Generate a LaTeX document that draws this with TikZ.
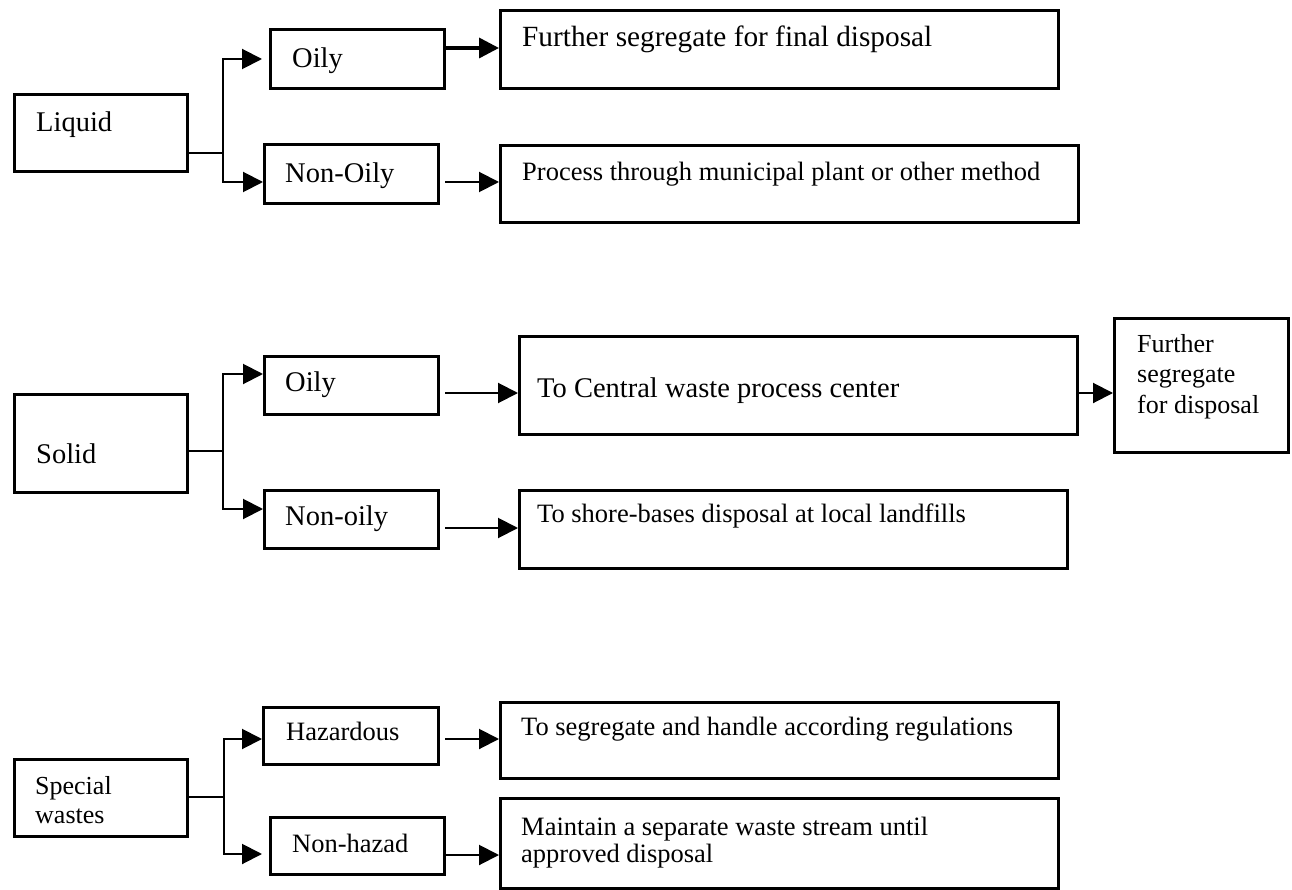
\documentclass[tikz,border=0pt]{standalone}
\usepackage{fontspec}
\setmainfont{Liberation Serif}
\usepackage{tikz}
\usetikzlibrary{arrows.meta}

\begin{document}
\begin{tikzpicture}[x=1pt, y=-1pt, >={Triangle[length=20pt, width=20pt]},
  box/.style={draw, line width=3pt, anchor=north west, inner sep=0pt},
  txt/.style={anchor=base west, inner sep=0pt, align=left, font=\fontsize{28.5}{29}\selectfont},
  smalltxt/.style={txt, font=\fontsize{26.5}{27}\selectfont},
  link/.style={line width=2pt}]
\useasboundingbox (0,0) rectangle (1292,890);

% Liquid
\node[box, minimum width=173pt, minimum height=77pt] (liquid) at (13,93) {};
\node[box, minimum width=174pt, minimum height=59pt] (oilyL) at (269,28) {};
\node[box, minimum width=174pt, minimum height=59pt] (nonoilyL) at (263,143) {};
\node[box, minimum width=558pt, minimum height=78pt] (further) at (499,9) {};
\node[box, minimum width=578pt, minimum height=77pt] (process) at (499,144) {};
\node[txt] (liquidtxt) at (36,132) {Liquid};
\node[txt] (oilyLtxt) at (292,68) {Oily};
\node[txt] (nonoilyLtxt) at (285,183) {Non-Oily};
\node[txt, font=\fontsize{29.3}{29}\selectfont] (furthertxt) at (522,47) {Further segregate for final disposal};
\node[smalltxt] (processtxt) at (522,181) {Process through municipal plant or other method};

\coordinate (liqfork) at (223,153);
\draw[link] (liquid.east |- liqfork) -- (liqfork);
\draw[link, ->, shorten >=7pt] (liqfork) |- (oilyL.west);
\draw[link, ->] (liqfork) |- (nonoilyL.west |- 0,182);
\draw[line width=3.5pt, ->] (oilyL.east |- 0,48) -- (further.west |- 0,48);
\draw[link, ->, shorten <=5pt] (nonoilyL.east |- 0,182) -- (process.west |- 0,182);

% Solid
\node[box, minimum width=173pt, minimum height=98pt] (solid) at (13,393) {};
\node[box, minimum width=174pt, minimum height=58pt] (oilyS) at (263,355) {};
\node[box, minimum width=174pt, minimum height=58pt] (nonoilyS) at (263,489) {};
\node[box, minimum width=558pt, minimum height=98pt] (central) at (518,335) {};
\node[box, minimum width=174pt, minimum height=134pt] (furtherS) at (1113,317) {};
\node[box, minimum width=548pt, minimum height=78pt] (shore) at (518,489) {};
\node[txt] (solidtxt) at (36,463) {Solid};
\node[txt] (oilyStxt) at (285,391) {Oily};
\node[txt] (nonoilyStxt) at (285,525) {Non-oily};
\node[txt] (centraltxt) at (537,397) {To Central waste process center};
\node[txt, font=\fontsize{26}{30.5}\selectfont] (furtherStxt) at (1137,413) {Further\\segregate\\for disposal};
\node[smalltxt] (shoretxt) at (537,522) {To shore-bases disposal at local landfills};

\coordinate (solfork) at (223,451);
\draw[link] (solid.east |- solfork) -- (solfork);
\draw[link, ->] (solfork) |- (oilyS.west |- 0,374);
\draw[link, ->] (solfork) |- (nonoilyS.west |- 0,509);
\draw[link, ->, shorten <=5pt] (oilyS.east |- 0,393) -- (central.west |- 0,393);
\draw[link, ->] (central.east |- 0,393) -- (furtherS.west |- 0,393);
\draw[link, ->, shorten <=5pt] (nonoilyS.east |- 0,528) -- (shore.west |- 0,528);

% Special wastes
\node[box, minimum width=173pt, minimum height=77pt] (special) at (13,758) {};
\node[box, minimum width=175pt, minimum height=57pt] (hazard) at (262,706) {};
\node[box, minimum width=174pt, minimum height=57pt] (nonhazard) at (269,816) {};
\node[box, minimum width=558pt, minimum height=76pt] (segregate) at (499,701) {};
\node[box, minimum width=558pt, minimum height=90pt] (maintain) at (499,797) {};
\node[txt, font=\fontsize{26}{29}\selectfont] (specialtxt) at (35,823) {Special\\wastes};
\node[smalltxt] (hazardtxt) at (286,740) {Hazardous};
\node[smalltxt] (nonhazardtxt) at (292,852) {Non-hazad};
\node[smalltxt] (segregatetxt) at (521,735) {To segregate and handle according regulations};
\node[smalltxt] (maintaintxt) at (521,862) {Maintain a separate waste stream until\\approved disposal};

\coordinate (spefork) at (224,797);
\draw[link] (special.east |- spefork) -- (spefork);
\draw[link, ->] (spefork) |- (hazard.west |- 0,739);
\draw[link, ->, shorten >=7pt] (spefork) |- (nonhazard.west |- 0,854);
\draw[link, ->, shorten <=5pt] (hazard.east |- 0,739) -- (segregate.west |- 0,739);
\draw[link, ->] (nonhazard.east |- 0,855) -- (maintain.west |- 0,855);

\end{tikzpicture}
\end{document}
